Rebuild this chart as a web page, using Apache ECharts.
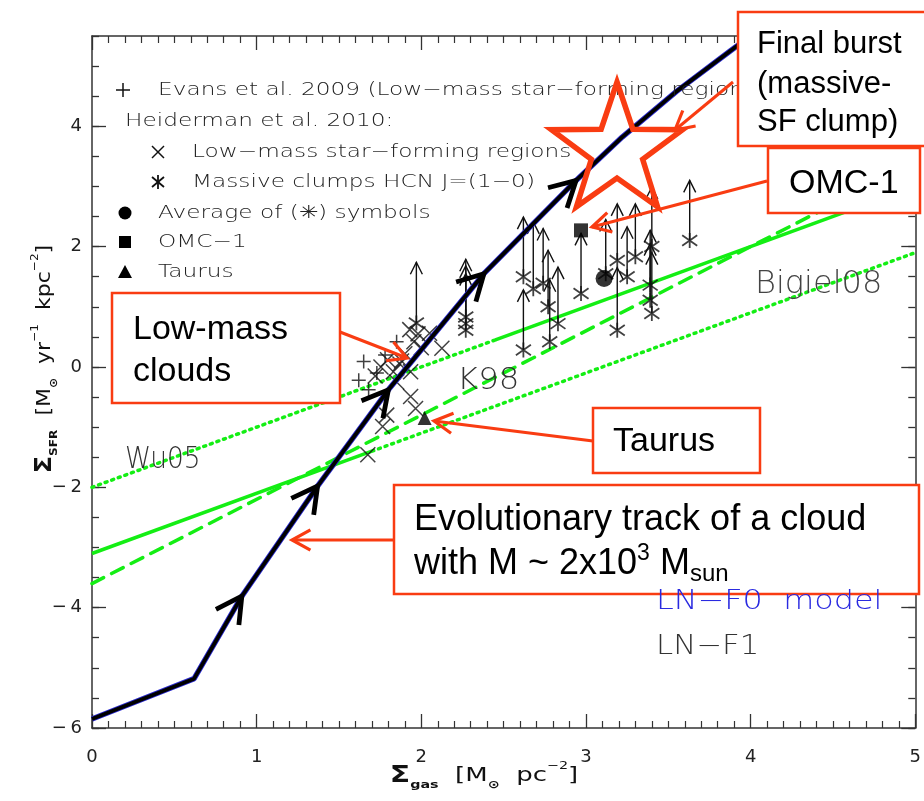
<!DOCTYPE html>
<html>
<head>
<meta charset="utf-8">
<script src="https://cdn.jsdelivr.net/npm/echarts@6.0.0/dist/echarts.min.js"></script>
<style>
html,body{margin:0;padding:0;background:#fff;}
#chart{width:924px;height:801px;}
</style>
</head>
<body>
<div id="chart"></div>
<script>
// ---------------- data ----------------
const xTickValues = [0, 1, 2, 3, 4, 5];
const yTickValues = [-6, -4, -2, 0, 2, 4];

// evolutionary track of a cloud (LN-F0 / LN-F1 model)
const trackX = [0.00, 0.62, 0.91, 1.37, 1.80, 2.38, 2.94, 3.22, 3.55, 3.88, 4.10];
const trackY = [-5.85, -5.18, -3.81, -1.98, -0.38, 1.55, 3.10, 3.82, 4.58, 5.26, 5.70];
const trackArrowX = [0.91, 1.37, 1.80, 2.38, 2.94];
const trackArrowY = [-3.81, -1.98, -0.38, 1.55, 3.10];

// Evans et al. 2009 (+)
const evansX = [1.43, 1.42, 1.65, 1.62, 1.85, 1.68, 1.73, 1.78];
const evansY = [-0.02, -0.49, 0.09, -0.22, 0.42, -0.38, -0.10, 0.20];

// Heiderman et al. 2010 low-mass star-forming regions (x)
const lowMassX = [1.675, 1.765, 1.79, 1.935, 1.965, 1.755, 1.795, 1.83, 1.87, 1.90, 1.935, 1.955, 1.98, 2.05, 2.125, 2.00, 1.72, 1.85, 1.93, 1.88];
const lowMassY = [-1.46, -0.99, -0.80, -0.49, -0.69, 0.00, 0.12, -0.08, 0.05, 0.22, -0.08, 0.42, 0.55, 0.56, 0.31, 0.32, -0.15, -0.25, 0.62, 0.10];

// Massive clumps HCN J=(1-0) (asterisks) with upper arrow ends
const clumpX = [1.97, 2.27, 2.27, 2.27, 2.62, 2.62, 2.68, 2.74, 2.77, 2.78, 2.83, 2.97, 3.12, 3.19, 3.19, 3.25, 3.30, 3.40, 3.39, 3.39, 3.40, 3.63];
const clumpY = [0.73, 0.83, 0.72, 0.61, 1.50, 0.28, 1.30, 1.39, 1.00, 0.42, 0.72, 1.22, 1.55, 1.77, 0.61, 1.50, 1.83, 2.00, 1.36, 1.11, 0.89, 2.10];
const clumpLimitY = [1.74, 1.79, 1.68, 1.55, 2.49, 1.28, 2.41, 2.30, 1.94, 1.45, 1.66, 2.22, 2.45, 2.71, 1.65, 2.33, 2.71, 2.99, 2.27, 2.05, 1.90, 3.10];

const averageX = [3.11], averageY = [1.47];
const omcX = [2.97], omcY = [2.27];
const taurusX = [2.02], taurusY = [-0.85];

// relations
const k98X = [0, 5], k98Y = [-3.6, 3.4];
const bigielSolidX = [0, 1.7], bigielSolidY = [-3.1, -1.4];
const bigielDotX = [1.7, 5], bigielDotY = [-1.4, 1.9];
const wuDotX = [0, 2.45], wuDotY = [-2.0, 0.45];
const wuSolidX = [2.45, 5], wuSolidY = [0.45, 3.0];

// ---------------- helpers ----------------
const zip = (a, b) => a.map((v, i) => [v, b[i]]);
const RED = '#F93C12';
const GREEN = '#14EE14';
const HF = '"DejaVu Sans", sans-serif';
const AF = '"Liberation Sans", Arial, sans-serif';

const chart = echarts.init(document.getElementById('chart'));

const axisLineStyle = {color: '#333', width: 1.5};
function xAx(pos, labels) {
  return {
    type: 'value', min: xTickValues[0], max: xTickValues[xTickValues.length - 1], interval: 1, position: pos,
    axisLine: {show: true, onZero: false, lineStyle: axisLineStyle},
    axisTick: {show: true, inside: true, length: 14, lineStyle: {color: '#333', width: 1.3}},
    minorTick: {show: true, splitNumber: 10, length: 7, lineStyle: {color: '#333', width: 1.2}},
    axisLabel: {show: labels, margin: 20, fontFamily: HF, fontSize: 18, color: '#222'},
    splitLine: {show: false}, minorSplitLine: {show: false}
  };
}
function yAx(pos, major, labels) {
  return {
    type: 'value', min: yTickValues[0], max: 5.5, interval: major ? 2 : 0.5, position: pos,
    axisLine: {show: major, onZero: false, lineStyle: axisLineStyle},
    axisTick: {show: true, inside: true, length: major ? 14 : 7, lineStyle: {color: '#333', width: 1.3}},
    axisLabel: {show: labels, margin: 10, fontFamily: HF, fontSize: 18, color: '#222', showMaxLabel: false,
      formatter: v => (v < 0 ? '\u2212\u2009' + Math.abs(v) : String(v))},
    splitLine: {show: false}
  };
}

function lineSeries(name, xs, ys, type, width, color, z) {
  return {
    name, type: 'line', data: zip(xs, ys), symbol: 'none', z: z || 2, silent: true,
    lineStyle: {color: color, width: width, type: type, cap: type === 'solid' ? 'butt' : 'round'}
  };
}

const PLUS = 'path://M0,10L20,10M10,0L10,20';
const CROSS = 'path://M2,2L18,18M18,2L2,18';
const ASTER = 'path://M10,0L10,20M1,3L19,17M19,3L1,17';

const series = [
  lineSeries('Wu05 dotted', wuDotX, wuDotY, [2, 5], 3.5, GREEN),
  lineSeries('Wu05', wuSolidX, wuSolidY, 'solid', 3.5, GREEN),
  lineSeries('Bigiel08', bigielSolidX, bigielSolidY, 'solid', 3.5, GREEN),
  lineSeries('Bigiel08 dotted', bigielDotX, bigielDotY, [2, 5], 3.5, GREEN),
  lineSeries('K98', k98X, k98Y, [13, 9], 3.5, GREEN),
  {
    name: 'clump limits', type: 'custom', z: 3, silent: true,
    data: clumpX.map((x, i) => [x, clumpY[i], clumpLimitY[i]]),
    renderItem: function (params, api) {
      const p0 = api.coord([api.value(0), api.value(1)]);
      const p1 = api.coord([api.value(0), api.value(2)]);
      return {type: 'group', children: [
        {type: 'line', shape: {x1: p0[0], y1: p0[1], x2: p1[0], y2: p1[1]}, style: {stroke: '#111', lineWidth: 1.4}},
        {type: 'polyline', shape: {points: [[p1[0] - 6, p1[1] + 12], [p1[0], p1[1]], [p1[0] + 6, p1[1] + 12]]}, style: {stroke: '#111', lineWidth: 1.4, fill: null}}
      ]};
    }
  },
  {name: 'Evans', type: 'scatter', z: 4, data: zip(evansX, evansY), symbol: PLUS, symbolSize: 14,
    itemStyle: {color: 'none', borderColor: '#111', borderWidth: 1.5}},
  {name: 'Low-mass', type: 'scatter', z: 4, data: zip(lowMassX, lowMassY), symbol: CROSS, symbolSize: 15,
    itemStyle: {color: 'none', borderColor: '#111', borderWidth: 1.5}},
  {name: 'Clumps', type: 'scatter', z: 4, data: zip(clumpX, clumpY), symbol: ASTER, symbolSize: 15,
    itemStyle: {color: 'none', borderColor: '#111', borderWidth: 1.8}},
  {name: 'Average', type: 'scatter', z: 5, data: zip(averageX, averageY), symbol: 'circle', symbolSize: 17, itemStyle: {color: '#000'}},
  {name: 'OMC-1', type: 'scatter', z: 5, data: zip(omcX, omcY), symbol: 'rect', symbolSize: 14, itemStyle: {color: '#000'}},
  {name: 'Taurus', type: 'scatter', z: 5, data: zip(taurusX, taurusY), symbol: 'triangle', symbolSize: 14, itemStyle: {color: '#000'}},
  {name: 'LN-F0 model', type: 'line', z: 6, data: zip(trackX, trackY), symbol: 'none', silent: true,
    lineStyle: {color: '#2a2ad0', width: 5.5}},
  {name: 'LN-F1', type: 'line', z: 7, data: zip(trackX, trackY), symbol: 'none', silent: true,
    lineStyle: {color: '#000', width: 3.8}},
  {
    name: 'track arrows', type: 'custom', z: 8, silent: true,
    data: zip(trackArrowX, trackArrowY),
    renderItem: function (params, api) {
      const x = api.value(0), y = api.value(1);
      let i = 0;
      while (i < trackX.length - 2 && trackX[i + 1] <= x) i++;
      const a = api.coord([trackX[i], trackY[i]]);
      const b = api.coord([trackX[i + 1], trackY[i + 1]]);
      const p = api.coord([x, y]);
      const ang = Math.atan2(b[1] - a[1], b[0] - a[0]);
      const L = 29, s = 0.5;
      return {type: 'polyline', shape: {points: [
        [p[0] - L * Math.cos(ang - s), p[1] - L * Math.sin(ang - s)], p,
        [p[0] - L * Math.cos(ang + s), p[1] - L * Math.sin(ang + s)]]},
        style: {stroke: '#000', lineWidth: 4.8, fill: null}};
    }
  }
];

// ---------------- annotations / texts ----------------
const g = [];
function T(x, y, text, o) {
  o = o || {};
  g.push({
    type: 'text', z: o.z || 60, x: x, y: y, scaleX: o.sx || 1, rotation: o.rot || 0,
    style: {
      text: text, fill: o.color || '#000', fontFamily: o.ff || AF, fontSize: o.fs || 30,
      fontWeight: o.fw || 'normal', align: o.align || 'left', verticalAlign: 'middle',
      textAlign: o.align || 'left', textVerticalAlign: 'middle', rich: o.rich
    }
  });
}
function box(x, y, w, h) {
  g.push({type: 'rect', z: 55, shape: {x: x, y: y, width: w, height: h}, style: {fill: '#fff', stroke: RED, lineWidth: 2.5}});
}
function redArrow(x1, y1, x2, y2) {
  const a = Math.atan2(y2 - y1, x2 - x1), L = 21, s = 0.5;
  g.push({type: 'line', z: 58, shape: {x1: x1, y1: y1, x2: x2, y2: y2}, style: {stroke: RED, lineWidth: 3}});
  g.push({type: 'polyline', z: 58, shape: {points: [[x2 - L * Math.cos(a - s), y2 - L * Math.sin(a - s)], [x2, y2], [x2 - L * Math.cos(a + s), y2 - L * Math.sin(a + s)]]},
    style: {stroke: RED, lineWidth: 3.2, fill: null}});
}
function seg(x1, y1, x2, y2, w) {
  g.push({type: 'line', z: 20, shape: {x1: x1, y1: y1, x2: x2, y2: y2}, style: {stroke: '#111', lineWidth: w || 1.5}});
}

// legend (top-left, inside plot)
const LF = {ff: HF, fs: 18, sx: 1.29, color: '#222', z: 20, fw: 300};
seg(116, 90, 130, 90); seg(123, 83, 123, 97);
T(158, 90, 'Evans et al. 2009 (Low\u2212mass star\u2212forming regions)', LF);
T(125, 121, 'Heiderman et al. 2010:', LF);
seg(152, 146, 164, 158); seg(164, 146, 152, 158);
T(192, 152, 'Low\u2212mass star\u2212forming regions', LF);
seg(158, 175, 158, 189, 1.8); seg(152, 177, 164, 187, 1.8); seg(164, 177, 152, 187, 1.8);
T(192, 182, 'Massive clumps HCN J=(1\u22120)', LF);
g.push({type: 'circle', z: 20, shape: {cx: 125, cy: 213, r: 6.5}, style: {fill: '#000'}});
T(158, 213, 'Average of (\u2733) symbols', LF);
g.push({type: 'rect', z: 20, shape: {x: 119, y: 236, width: 12, height: 12}, style: {fill: '#000'}});
T(158, 242, 'OMC\u22121', LF);
g.push({type: 'polygon', z: 20, shape: {points: [[125, 265], [132, 278], [118, 278]]}, style: {fill: '#000'}});
T(158, 272, 'Taurus', LF);

// in-plot relation labels
T(457, 381, 'K98', {ff: HF, fs: 30, sx: 1.08, color: '#333', z: 20, fw: 300});
T(755, 285, 'Bigiel08', {ff: HF, fs: 32, color: '#444', z: 20, fw: 300});
T(125, 460, 'Wu05', {ff: HF, fs: 30, sx: 0.88, color: '#333', z: 20, fw: 300});
T(656, 602, 'LN\u2212F0  model', {ff: HF, fs: 27, sx: 1.18, color: '#2a2ae0', z: 57, fw: 300});
T(656, 647, 'LN\u2212F1', {ff: HF, fs: 27, sx: 1.14, color: '#333', z: 20, fw: 300});

// axis names
const nameRich = {
  a: {fontSize: 23, fontWeight: 'bold', lineHeight: 30, fontFamily: HF},
  b: {fontSize: 20, lineHeight: 30, fontFamily: HF},
  s: {fontSize: 11, fontWeight: 'bold', lineHeight: 10, verticalAlign: 'bottom', fontFamily: HF},
  p: {fontSize: 11, lineHeight: 10, verticalAlign: 'top', fontFamily: HF}
};
T(484, 776, '{a|\u03A3}{s|gas} {b| [M}{s|\u2299}{b|  pc}{p|\u22122}{b|]}', {ff: HF, fs: 20, sx: 1.3, color: '#111', align: 'center', z: 20, rich: nameRich});
T(45, 359, '{a|\u03A3}{s|SFR} {b| [M}{s|\u2299}{b|  yr}{p|\u22121}{b|  kpc}{p|\u22122}{b|]}', {ff: HF, fs: 20, sx: 1.1, color: '#111', align: 'center', z: 20, rot: Math.PI / 2, rich: nameRich});

// red star
(function () {
  const cx = 617, cy = 151, R = 69, r = 27, pts = [];
  for (let k = 0; k < 10; k++) {
    const rad = k % 2 === 0 ? R : r;
    const ang = -Math.PI / 2 + k * Math.PI / 5;
    pts.push([cx + rad * Math.cos(ang), cy + rad * Math.sin(ang)]);
  }
  g.push({type: 'polygon', z: 50, shape: {points: pts}, style: {fill: null, stroke: RED, lineWidth: 5.5, lineJoin: 'miter'}});
})();

// boxes and arrows
box(738, 12, 200, 134);
T(757, 44, 'Final burst', {fs: 31});
T(757, 84, '(massive-', {fs: 31});
T(757, 122, 'SF clump)', {fs: 31});
redArrow(733, 82, 675, 130);

box(768, 148, 152, 65);
T(789, 184, 'OMC-1', {fs: 34});
redArrow(767, 181, 592, 227);

box(112, 293, 228, 110);
T(133, 330, 'Low-mass', {fs: 34});
T(133, 372, 'clouds', {fs: 34});
redArrow(340, 332, 407, 358);

box(593, 408, 167, 65);
T(613, 442, 'Taurus', {fs: 34});
redArrow(593, 441, 434, 421);

box(394, 485, 525, 109);
T(414, 520, 'Evolutionary track of a cloud', {fs: 36});
T(414, 564, '{b|with M ~ 2x10}{p|3}{b| M}{s|sun}', {fs: 36,
  rich: {b: {fontSize: 36, lineHeight: 44, fontFamily: AF},
         p: {fontSize: 23, lineHeight: 30, verticalAlign: 'top', fontFamily: AF},
         s: {fontSize: 24, lineHeight: 22, verticalAlign: 'bottom', fontFamily: AF}}});
redArrow(394, 540, 292, 540);

const option = {
  backgroundColor: '#fff',
  animation: false,
  grid: {left: 92, right: 3, top: 36, bottom: 73, containLabel: false},
  xAxis: [xAx('bottom', true), xAx('top', false)],
  yAxis: [yAx('left', true, true), yAx('left', false, false), yAx('right', true, false), yAx('right', false, false)],
  series: series,
  graphic: {elements: g}
};
chart.setOption(option);
</script>
</body>
</html>
